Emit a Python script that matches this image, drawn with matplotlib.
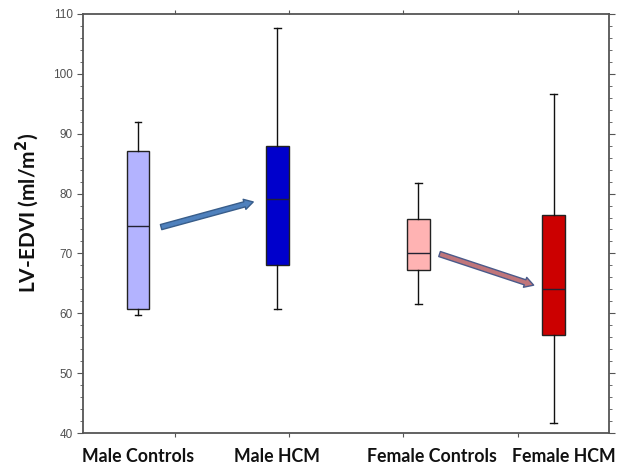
import matplotlib
matplotlib.use("Agg")
import matplotlib.pyplot as plt
from matplotlib.patches import FancyArrowPatch
from matplotlib.ticker import MultipleLocator

# box statistics
groups = ["Male Controls", "Male HCM", "Female Controls", "Female HCM"]
whislo = [59.7, 60.7, 61.5, 41.6]
q1 = [60.7, 68.1, 67.2, 56.4]
med = [74.5, 79.1, 70.1, 64.0]
q3 = [87.1, 88.0, 75.7, 76.5]
whishi = [92.0, 107.6, 81.8, 96.6]
colors = ["#b3b3ff", "#0000cc", "#ffb3b3", "#cc0000"]

box_x = [0.675, 1.895, 3.13, 4.316]
label_x = [0.675, 1.895, 3.25, 4.40]

fig = plt.figure(figsize=(6.19, 4.70), dpi=100)
ax = fig.add_axes([83 / 619, 1 - 433 / 470, 526 / 619, 419 / 470])

stats = []
for i, g in enumerate(groups):
    stats.append(dict(label=g, whislo=whislo[i], q1=q1[i], med=med[i],
                      q3=q3[i], whishi=whishi[i], fliers=[]))

bp = ax.bxp(stats, positions=box_x, widths=0.2, patch_artist=True,
            showfliers=False, capwidths=0.06,
            boxprops=dict(linewidth=1.0, edgecolor="#222222"),
            medianprops=dict(color="#222233", linewidth=1.0),
            whiskerprops=dict(color="#111111", linewidth=1.0),
            capprops=dict(color="#111111", linewidth=1.0))
for patch, c in zip(bp["boxes"], colors):
    patch.set_facecolor(c)

# arrows between groups
arrows = [((0.877, 74.4), (1.684, 78.6), "#4f81bd", "#385d8a"),
          ((3.316, 69.9), (4.14, 64.7), "#c0757a", "#4a5a8a")]
for start, end, fc, ec in arrows:
    a = FancyArrowPatch(start, end,
                        arrowstyle="simple,head_width=7.5,head_length=6.5,tail_width=3.8",
                        facecolor=fc, edgecolor=ec, linewidth=1.0,
                        shrinkA=0, shrinkB=0, zorder=5)
    ax.add_patch(a)

ax.set_xlim(0.193, 4.80)
ax.set_ylim(40, 110)
ax.set_xticks([1, 2, 3, 4])
ax.set_xticklabels([])
ax.yaxis.set_major_locator(MultipleLocator(10))
ax.yaxis.set_minor_locator(MultipleLocator(2))

for s in ax.spines.values():
    s.set_color("#555555")
    s.set_linewidth(1.3)

ax.tick_params(axis="x", which="both", direction="out", top=True, bottom=True,
               length=3, color="#555555")
ax.tick_params(axis="y", which="major", direction="out", left=True, right=True,
               length=4, color="#555555", labelsize=8.5, labelcolor="#505050")
ax.tick_params(axis="y", which="minor", direction="out", left=True, right=True,
               length=2.5, color="#555555")
for lbl in ax.get_yticklabels():
    lbl.set_family("Liberation Sans")

for x, g in zip(label_x, groups):
    ax.text(x, -0.055, g, transform=ax.get_xaxis_transform(), ha="center",
            va="center", fontsize=12.8, fontweight="bold", family="Lato",
            color="#111111")

fig.text(27 / 619, 1 - 213 / 470, "LV-EDVI (ml/m$^\\mathbf{2}$)", rotation=90,
         ha="center", va="center", fontsize=15, fontweight="bold", family="Lato",
         color="#111111")

fig.savefig("out.png", dpi=100)
